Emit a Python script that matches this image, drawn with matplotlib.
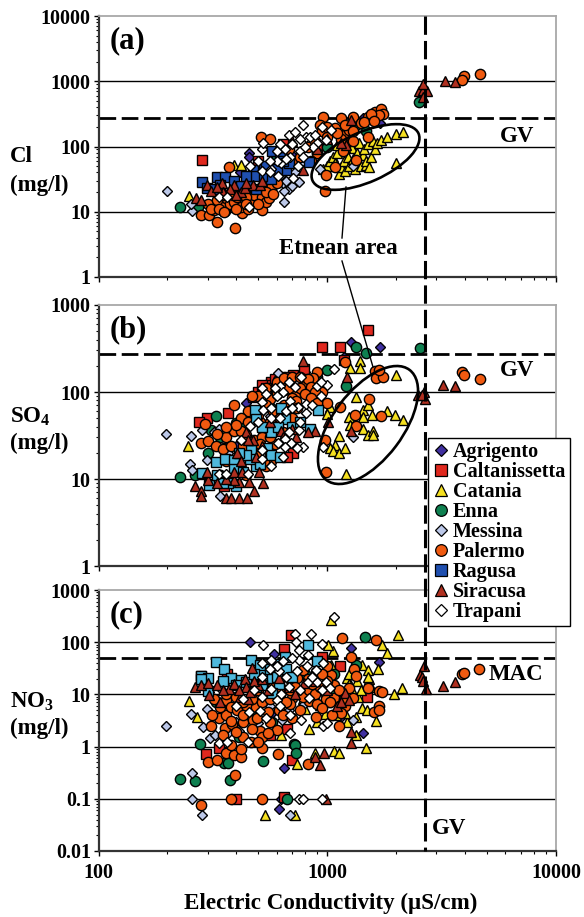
# groundwater chemistry against conductivity, three log-log panels

import matplotlib
matplotlib.use('Agg')
import matplotlib.pyplot as plt
from matplotlib.lines import Line2D
from matplotlib.patches import Ellipse
from matplotlib.transforms import Affine2D

plt.rcParams['font.family'] = ['Liberation Serif', 'DejaVu Serif']
plt.rcParams['font.weight'] = 'bold'
plt.rcParams['mathtext.fontset'] = 'custom'
plt.rcParams['mathtext.bf'] = 'Liberation Serif:bold'
plt.rcParams['mathtext.rm'] = 'Liberation Serif:bold'

# (conductivity, concentration)
# panel a: Cl
agrigento_a = [(454, 79), (454, 68), (415, 40), (1440, 270), (1700, 230), (640, 60), (700, 75), (1160, 150)]
caltanissetta_a = [(283, 62), (642, 110), (500, 60), (560, 45), (900, 90), (1200, 120)]
catania_a = [(248, 17.5), (390, 52), (420, 52), (960, 45), (1000, 50), (1030, 60), (1060, 70), (1080, 55), (1100, 80),
             (1130, 38), (1150, 48), (1180, 60), (1200, 42), (1230, 70), (1250, 50), (1280, 95), (1300, 65), (1320, 45),
             (1350, 80), (1380, 115), (1400, 50), (1430, 75), (1450, 90), (1470, 52), (1480, 60), (1500, 110),
             (1520, 48), (1550, 70), (1580, 120), (1620, 90), (1650, 115), (1710, 126), (1820, 140), (2000, 156),
             (2140, 167), (2000, 56), (1100, 105), (1200, 100)]
enna_a = [(228, 12), (273, 12), (357, 10.2), (1340, 210), (1470, 170), (1000, 100), (600, 70), (1210, 120), (2510, 487)]
messina_a = [(200, 21), (257, 10.2), (255, 13), (650, 14), (342, 10.2), (680, 22), (645, 20.5), (700, 25), (750, 29),
             (925, 46), (1300, 50), (430, 12), (640, 28), (350, 13), (540, 22), (590, 26), (620, 35), (560, 30),
             (660, 30), (720, 40), (780, 55)]
palermo_a = [(281, 8.8), (304, 9), (328, 7), (396, 5.6), (422, 9.6), (520, 10.5), (980, 20.5), (372, 49), (515, 140),
             (560, 130), (955, 280), (1145, 270), (1300, 285), (1510, 285), (1620, 340), (1710, 380), (1760, 315),
             (1680, 300), (1170, 85), (1080, 49), (985, 37), (1330, 62), (925, 215), (1080, 190), (320, 10.5),
             (345, 12), (362, 16), (375, 13), (390, 14), (405, 17), (420, 12), (430, 20), (450, 11), (470, 14),
             (480, 18), (500, 22), (520, 17), (540, 14), (555, 16), (570, 24), (600, 28), (500, 40), (530, 32),
             (560, 50), (620, 45), (680, 90), (700, 60), (760, 70), (820, 100), (880, 120), (950, 170), (1000, 140),
             (1200, 150), (1250, 180), (1400, 230), (1560, 310), (1500, 140), (1300, 120), (1150, 130), (900, 80),
             (850, 60), (3980, 1200), (3900, 1050), (4640, 1290), (300, 13), (330, 15), (350, 18), (380, 20), (410, 22),
             (440, 17), (460, 25), (310, 11), (335, 11), (355, 10), (400, 11), (440, 13), (500, 13), (540, 20),
             (580, 19), (1000, 200), (1100, 160), (1200, 210), (1300, 170), (1450, 240), (1600, 250)]
ragusa_a = [(283, 29), (328, 34.5), (357, 34), (297, 23), (472, 43), (570, 32), (490, 22), (575, 84), (660, 44),
            (830, 57), (680, 55), (530, 45), (455, 30), (320, 22), (620, 70), (390, 30), (420, 25), (520, 35),
            (540, 50), (600, 45), (640, 60), (480, 35), (440, 35), (340, 26)]
siracusa_a = [(268, 16), (280, 15), (297, 26), (310, 21), (345, 28), (390, 26), (375, 22), (418, 20), (438, 23),
              (475, 26), (510, 26), (785, 43), (700, 120), (1275, 255), (1210, 105), (2620, 818), (2510, 710),
              (2630, 730), (2740, 710), (2620, 570), (3260, 1000), (3600, 970), (2630, 900), (400, 18), (350, 20),
              (440, 28), (330, 24), (520, 30), (610, 100), (900, 90), (1000, 130), (1150, 115)]
trapani_a = [(336, 17), (365, 17), (454, 12), (460, 50), (520, 42), (570, 46), (610, 35), (705, 33), (745, 50),
             (630, 55), (600, 85), (655, 90), (520, 90), (525, 115), (680, 150), (725, 165), (785, 210), (810, 140),
             (760, 85), (785, 70), (685, 70), (905, 115), (945, 200), (1040, 180), (990, 125), (870, 100), (560, 40),
             (600, 60), (660, 65), (700, 110), (760, 130), (800, 100), (620, 110), (840, 140), (880, 150), (560, 60),
             (500, 60)]

# panel b: SO4
agrigento_b = [(1270, 380), (1700, 330), (440, 75), (400, 24), (1180, 255), (800, 170)]
caltanissetta_b = [(1500, 520), (945, 325), (1135, 330), (790, 185), (710, 158), (570, 130), (475, 87), (367, 57),
                   (297, 50), (275, 45), (355, 8.2), (710, 20), (665, 18), (1180, 235), (600, 115), (620, 150),
                   (560, 120), (590, 140), (640, 140), (500, 100), (520, 120), (540, 110), (680, 150)]
catania_b = [(247, 24), (2000, 157), (1330, 88), (1210, 11.5), (2140, 48), (1970, 54), (1830, 61), (1440, 62),
             (1510, 71), (1240, 52), (1260, 42), (1430, 38), (1510, 32), (1590, 36), (1130, 31), (1085, 24.5),
             (1030, 23), (1060, 21), (1125, 20), (1190, 22.5), (1390, 225), (1260, 190), (1390, 190), (1030, 68),
             (1000, 56), (1570, 54), (1440, 52), (1590, 32)]
enna_b = [(228, 10.5), (325, 53), (2550, 320), (1335, 325), (1470, 278), (1210, 118), (1000, 180), (355, 23),
          (310, 37), (265, 11), (610, 138), (400, 44), (480, 55), (570, 65), (420, 40), (340, 30), (300, 20), (700, 100),
          (900, 150)]
messina_b = [(197, 33), (255, 31), (252, 15), (256, 12.8), (340, 6.4), (610, 166), (640, 145), (690, 131), (430, 50),
             (410, 47), (370, 39), (335, 38), (283, 37), (1290, 30), (560, 53), (297, 16.6), (520, 60), (450, 55),
             (370, 20), (420, 20), (320, 35)]
palermo_b = [(390, 70), (293, 43), (280, 26), (302, 27), (325, 24), (362, 30), (390, 36), (985, 12), (980, 28),
             (1140, 68), (1515, 83), (1320, 54), (1330, 41), (1720, 53), (1620, 174), (1640, 143), (1760, 150),
             (1690, 178), (1200, 222), (900, 170), (870, 145), (560, 82), (600, 95), (640, 120), (650, 105), (680, 110),
             (720, 90), (700, 85), (730, 78), (650, 70), (620, 65), (580, 60), (540, 70), (510, 45), (520, 38),
             (600, 42), (480, 60), (500, 55), (440, 32), (420, 36), (480, 28), (520, 30), (560, 20), (570, 16),
             (540, 14), (460, 22), (400, 14), (360, 16), (340, 11), (370, 10), (440, 11), (800, 130), (950, 100),
             (1000, 75), (3900, 170), (3980, 157), (4640, 141), (500, 90), (540, 110), (600, 130), (650, 145),
             (700, 150), (760, 150), (820, 140), (850, 115), (880, 100), (760, 110), (800, 95), (850, 85), (900, 75),
             (470, 90), (450, 60), (420, 50), (400, 42), (450, 45), (560, 45), (620, 50), (680, 60), (740, 65),
             (350, 22), (380, 24), (430, 24), (500, 20), (510, 25), (590, 25), (640, 35), (700, 50), (360, 40),
             (330, 33), (560, 30), (530, 16), (410, 18)]
ragusa_b = [(485, 62), (487, 49), (655, 49), (625, 65), (570, 35), (840, 38), (465, 21.5), (545, 23), (570, 19),
            (620, 18), (487, 14), (325, 15.5), (357, 17), (390, 16.5), (283, 11.7), (305, 8.6), (400, 8.4), (370, 9),
            (390, 13), (910, 62), (430, 12), (520, 40), (610, 40), (700, 40), (760, 45), (460, 17), (510, 15),
            (440, 19), (410, 20), (330, 11), (350, 9)]
siracusa_b = [(265, 8.2), (282, 7.2), (280, 6.3), (360, 6), (378, 6), (410, 6), (445, 6.1), (478, 7.3), (525, 9),
              (455, 9.2), (410, 9.3), (392, 9.7), (300, 9.7), (298, 12), (392, 12), (425, 12), (505, 12), (405, 20),
              (475, 28), (440, 35), (628, 36), (730, 30), (885, 36), (1010, 45), (785, 228), (1215, 150), (1270, 36),
              (2650, 100), (2500, 92), (2680, 82), (2600, 92), (3200, 120), (3600, 117), (420, 16), (450, 28),
              (520, 24), (560, 45), (640, 30), (700, 38), (820, 35), (490, 18), (360, 10), (330, 9)]
trapani_b = [(335, 11.5), (362, 11.5), (450, 11.3), (570, 14), (520, 17), (520, 21.5), (785, 23.5), (735, 23), (695, 26),
             (655, 28.5), (610, 26), (655, 23.5), (680, 35), (755, 37), (760, 45), (810, 57), (810, 73), (745, 68),
             (690, 78), (725, 115), (770, 150), (1070, 182), (1000, 120), (900, 117), (940, 90), (520, 110), (520, 76),
             (525, 62), (570, 66), (620, 117), (460, 41), (960, 23.5), (540, 95), (590, 110), (640, 100), (680, 130),
             (600, 90), (660, 60), (700, 65), (860, 70), (940, 130), (570, 50), (620, 50), (500, 45), (420, 28),
             (640, 18)]

# panel c: NO3
agrigento_c = [(458, 100), (585, 60), (1270, 77), (1690, 42), (1430, 1.8), (650, 0.39), (615, 0.065), (625, 0.1),
               (565, 39), (1140, 3.6), (570, 4.3)]
caltanissetta_c = [(695, 137), (650, 75), (945, 52), (1140, 35), (1490, 9), (295, 0.73), (335, 0.92), (400, 0.1),
                   (645, 0.11), (700, 0.55), (280, 23), (665, 2.2), (560, 1.65), (365, 25)]
catania_c = [(248, 7.5), (270, 3.7), (2030, 137), (1730, 90), (1830, 62), (1060, 68), (1005, 88), (1040, 265),
             (2130, 13), (1950, 10), (1670, 31), (1420, 37), (1500, 29), (1530, 20), (1220, 21), (1240, 16), (1280, 12),
             (1360, 9), (1420, 5.4), (1490, 5), (1630, 3.1), (1330, 3.7), (1220, 3), (1090, 4), (900, 3), (830, 2.2),
             (980, 4.3), (800, 5.3), (625, 1.65), (1330, 1.65), (1070, 0.83), (1130, 0.75), (1480, 0.95), (885, 0.77),
             (735, 0.47), (535, 0.05), (725, 0.05), (925, 6.2), (1040, 36), (875, 10.5), (985, 11), (1500, 22),
             (1100, 13), (1250, 25), (1350, 18), (1150, 5.5), (1000, 7), (900, 12), (780, 8), (850, 15), (750, 12),
             (1400, 12), (1550, 14), (1100, 9), (1200, 4.5)]
enna_c = [(1460, 125), (277, 1.1), (228, 0.235), (264, 0.22), (375, 0.23), (355, 0.48), (370, 0.48), (525, 0.53),
          (715, 1.13), (725, 1.05), (730, 0.76), (665, 0.1), (575, 3), (325, 7.3), (1330, 36), (1070, 25), (410, 1.5),
          (790, 10.5), (800, 25), (700, 15), (540, 8), (480, 4), (430, 6), (600, 12), (1050, 12)]
messina_c = [(198, 2.5), (254, 4.2), (298, 5.3), (285, 2.4), (307, 1.45), (324, 1.7), (257, 0.31), (257, 0.1),
             (284, 0.05), (688, 0.05), (339, 13), (410, 2), (635, 3.2), (790, 6.5), (370, 1.8), (1300, 3.2), (305, 11),
             (430, 4), (470, 3.5), (560, 6), (620, 7), (680, 5), (500, 2.8), (400, 3), (720, 20)]
palermo_c = [(1160, 120), (1640, 108), (1270, 51), (1310, 30), (1330, 23), (1510, 13.5), (1680, 11.5), (1740, 11),
             (1040, 24), (1070, 15), (1000, 35), (1600, 4.7), (1690, 6), (1690, 5), (1130, 2.5), (890, 3.7), (830, 7.5),
             (985, 8), (1070, 8.4), (1200, 6), (700, 8.6), (615, 5), (820, 0.47), (610, 0.73), (520, 0.95), (395, 0.29),
             (378, 0.1), (520, 0.1), (280, 0.075), (300, 0.5), (328, 0.56), (360, 0.77), (392, 0.7), (420, 0.62),
             (418, 0.91), (380, 1.05), (310, 2.5), (335, 3.6), (357, 2.3), (383, 2.7), (430, 2.9), (475, 3.2), (510, 2),
             (606, 2.1), (430, 1.5), (520, 1.5), (465, 1.25), (550, 1.8), (315, 4.1), (360, 4.1), (340, 5.8), (360, 7.7),
             (380, 5.8), (405, 5), (445, 5.8), (490, 5.8), (495, 3.5), (550, 4.7), (690, 6.5), (715, 19), (735, 21),
             (670, 23), (780, 29), (600, 10.5), (690, 12), (890, 27), (905, 6.5), (1030, 7), (690, 20), (3900, 24.6),
             (3980, 26), (4600, 30), (320, 8), (360, 10), (400, 9), (430, 7), (470, 8), (520, 7), (560, 8), (620, 10),
             (660, 7), (720, 14), (780, 9), (830, 12), (880, 10), (930, 14), (1000, 18), (1120, 12), (1180, 8),
             (1250, 13), (1300, 8.5), (1150, 4.5), (1050, 4), (950, 5.5), (760, 5), (640, 4), (700, 3.5), (470, 2.2),
             (400, 1.9), (350, 1.7), (560, 2.9), (430, 4), (380, 3.1), (500, 1.2), (620, 14), (560, 15), (500, 12),
             (820, 20), (950, 25), (860, 16)]
ragusa_c = [(325, 42), (355, 30), (280, 23), (300, 20.5), (280, 20), (300, 11.5), (380, 20.5), (420, 19), (465, 46),
            (510, 30), (530, 20), (575, 21), (615, 15.5), (490, 14), (575, 10.8), (820, 88), (905, 43), (655, 53),
            (510, 36), (350, 18), (400, 15), (440, 17), (560, 30), (620, 38), (600, 22), (480, 25), (520, 15),
            (660, 30), (700, 22)]
siracusa_c = [(265, 14), (280, 15), (300, 16.5), (305, 9.7), (372, 12.6), (392, 15.5), (435, 19.5), (442, 14), (470, 32),
              (500, 15), (415, 9), (450, 8), (615, 21), (790, 16.5), (1200, 10.5), (1250, 7.8), (1265, 1.9), (1265, 1.15),
              (965, 0.77), (885, 0.63), (930, 0.45), (990, 0.1), (2650, 35), (2550, 24), (2600, 22), (2630, 18),
              (2700, 12.5), (3200, 14.5), (3600, 17), (330, 15), (350, 12), (410, 12), (480, 18), (460, 11), (520, 20),
              (550, 12), (680, 14), (720, 10), (880, 18), (1100, 6), (1150, 7), (1000, 12), (340, 7)]
trapani_c = [(720, 143), (850, 141), (525, 88), (1075, 307), (945, 91), (730, 103), (755, 70), (820, 57), (755, 45),
             (565, 46), (520, 40), (640, 43), (615, 28), (815, 35), (890, 29), (820, 17), (905, 17), (990, 17),
             (1030, 13.5), (680, 14), (565, 12.6), (625, 10), (520, 9), (605, 7.8), (455, 4.7), (510, 4.8), (690, 4.1),
             (770, 3.3), (960, 2.5), (1000, 2.8), (690, 1.8), (335, 1.15), (365, 1.2), (450, 1.2), (755, 0.1),
             (785, 0.1), (945, 0.1), (430, 8), (480, 12), (660, 22), (740, 28), (860, 22), (960, 40), (700, 50),
             (600, 35), (560, 30), (520, 22), (950, 12), (760, 12), (830, 8.5), (400, 6), (620, 6), (540, 3.5)]

provinces = ['Agrigento', 'Caltanissetta', 'Catania', 'Enna', 'Messina', 'Palermo', 'Ragusa', 'Siracusa', 'Trapani']
markers = ['D', 's', '^', 'o', 'D', 'o', 's', '^', 'D']
sizes = [5.2, 7, 7.6, 7.4, 5.2, 7.4, 7, 7.6, 5.2]
colors = ['#4030A0', '#E0281E', '#F5E020', '#0E8050', '#BCC8E8', '#F05A10', '#1F4FAF', '#B03020', '#FFFFFF']
ragusa_light = '#4FB8DC'  # ragusa is a lighter blue in panels b and c

panel_a = [agrigento_a, caltanissetta_a, catania_a, enna_a, messina_a, palermo_a, ragusa_a, siracusa_a, trapani_a]
panel_b = [agrigento_b, caltanissetta_b, catania_b, enna_b, messina_b, palermo_b, ragusa_b, siracusa_b, trapani_b]
panel_c = [agrigento_c, caltanissetta_c, catania_c, enna_c, messina_c, palermo_c, ragusa_c, siracusa_c, trapani_c]

W, H = 584, 917
fig = plt.figure(figsize=(W / 100, H / 100), dpi=100)

# pixel coordinates from the top left, for the things laid over the panels
pix = Affine2D().scale(1, -1).translate(0, H)


def make_panel(top, bottom, ymin, ymax, yticks, ylabels, limit, tag, series, light):
    ax = fig.add_axes([98.5 / W, 1 - bottom / H, 457.5 / W, (bottom - top) / H])
    ax.set_xscale('log')
    ax.set_yscale('log')
    ax.set_xlim(100, 10000)
    ax.set_ylim(ymin, ymax)

    for tick in yticks[1:-1]:
        ax.axhline(tick, color='black', lw=1, zorder=1)
    ax.axhline(limit, color='black', lw=2, dashes=(6, 2), zorder=1.5)

    for i, points in enumerate(series):
        color = ragusa_light if (light and provinces[i] == 'Ragusa') else colors[i]
        ax.plot([p[0] for p in points], [p[1] for p in points], ls='none', marker=markers[i], ms=sizes[i],
                mfc=color, mec='black', mew=1.0, zorder=2 + i * 0.1, clip_on=False)

    ax.set_yticks(yticks)
    ax.set_yticklabels(ylabels, fontsize=14.4)
    ax.set_xticks([100, 1000, 10000])
    ax.set_xticklabels([])
    ax.tick_params(which='major', length=3.5, width=1, pad=2)
    ax.tick_params(which='minor', length=2, width=0.8, labelbottom=False, labelleft=False)
    ax.yaxis.set_minor_locator(matplotlib.ticker.LogLocator(base=10, subs=range(2, 10), numticks=12))
    ax.xaxis.set_minor_locator(matplotlib.ticker.LogLocator(base=10, subs=range(2, 10), numticks=12))

    ax.spines['left'].set_linewidth(1.6)
    ax.spines['left'].set_color('#333333')
    ax.spines['bottom'].set_linewidth(1.6)
    ax.spines['bottom'].set_color('#333333')
    ax.spines['top'].set_color('#a8a8a8')
    ax.spines['right'].set_color('#a8a8a8')
    ax.spines['top'].set_linewidth(1.3)
    ax.spines['right'].set_linewidth(1.3)

    fig.text(110 / W, 1 - (top + 25) / H, tag, fontsize=22, va='center', ha='left')
    return ax


make_panel(16, 277, 1, 10000, [1, 10, 100, 1000, 10000], ['1', '10', '100', '1000', '10000'], 270, '(a)', panel_a, False)
make_panel(305, 566, 1, 1000, [1, 10, 100, 1000], ['1', '10', '100', '1000'], 270, '(b)', panel_b, True)
ax_c = make_panel(590, 851, 0.01, 1000, [0.01, 0.1, 1, 10, 100, 1000], ['0.01', '0.1', '1', '10', '100', '1000'],
                  50, '(c)', panel_c, True)
ax_c.set_xticklabels(['100', '1000', '10000'], fontsize=14.4)
ax_c.tick_params(axis='x', which='major', pad=5)

# guideline running through all three panels
fig.add_artist(Line2D([425, 425], [16, 851], color='black', lw=2.2, dashes=(6, 2), transform=pix))

# Etnean area outlines and their leader lines
fig.add_artist(Ellipse((365.5, 157), 116, 50, angle=-24, fill=False, ec='black', lw=1.9, transform=pix))
fig.add_artist(Ellipse((368, 425), 138, 70, angle=-53, fill=False, ec='black', lw=1.9, transform=pix))
fig.add_artist(Line2D([346, 342], [187, 238], color='black', lw=1, transform=pix))
fig.add_artist(Line2D([342, 373], [261, 367], color='black', lw=1, transform=pix))


def label(x, y, text, size=16.5, **kw):
    fig.text(x / W, 1 - y / H, text, fontsize=size, va='center', **kw)


label(338, 249, 'Etnean area', ha='center')
label(517, 137, 'GV', ha='center')
label(517, 370, 'GV', ha='center')
label(516, 674, 'MAC', ha='center')
label(449, 828, 'GV', ha='center')
label(10, 157, 'Cl')
label(10, 185, '(mg/l)')
label(10, 417, 'SO$_{\\mathbf{4}}$')
label(10, 443, '(mg/l)')
label(10, 702, 'NO$_{\\mathbf{3}}$')
label(10, 728, '(mg/l)')
label(331, 903, 'Electric Conductivity (\u00b5S/cm)', size=16.6, ha='center')

handles = []
for i, name in enumerate(provinces):
    handles.append(Line2D([], [], ls='none', marker=markers[i], ms=sizes[i] + 1, mfc=colors[i], mec='black', mew=0.9,
                          label=name))
fig.legend(handles=handles, loc='upper left', bbox_to_anchor=(428 / W, 1 - 438 / H), fontsize=14.5, frameon=True,
           fancybox=False, edgecolor='black', framealpha=1, labelspacing=0.0, handlelength=0.85, handletextpad=0.2,
           borderpad=0.2, borderaxespad=0).get_frame().set_linewidth(1)

plt.savefig('out.png', dpi=100)
